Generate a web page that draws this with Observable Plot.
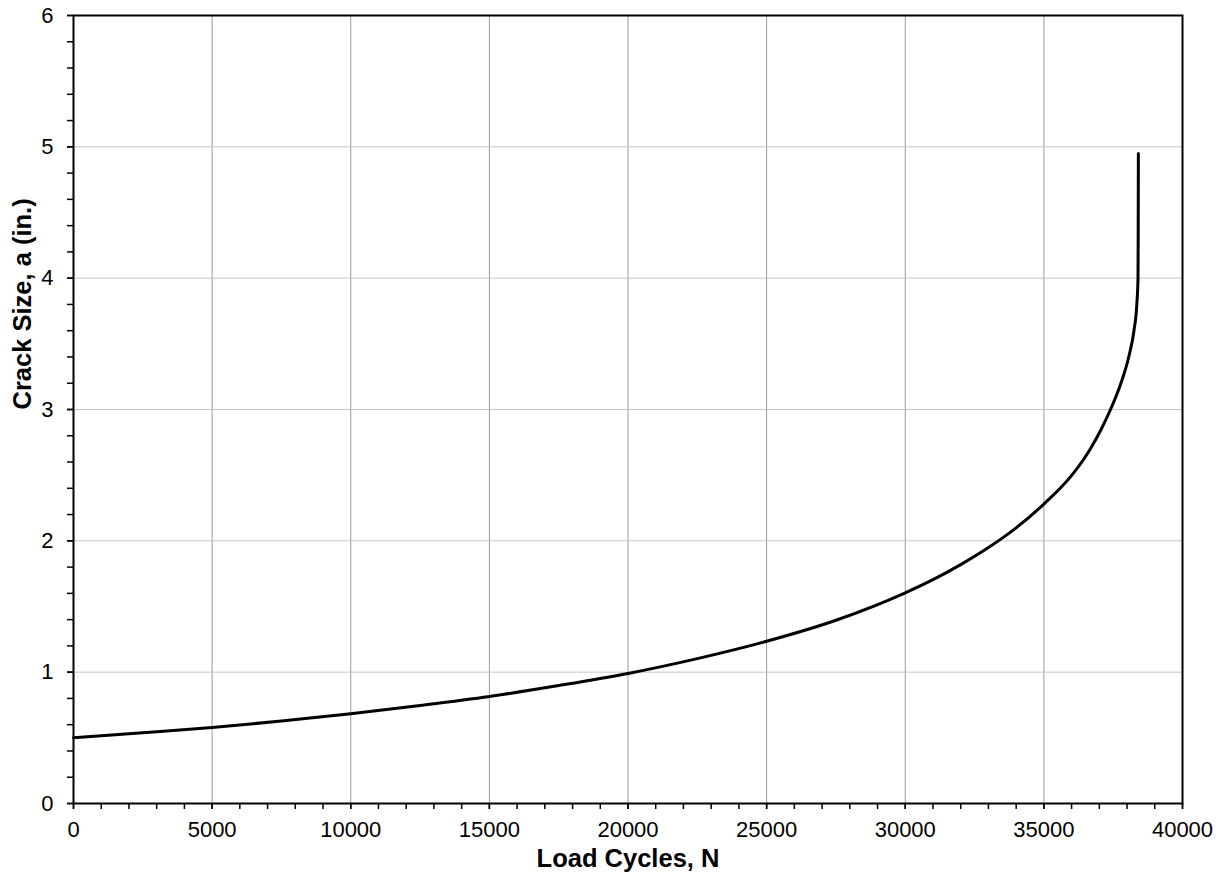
<!DOCTYPE html>
<html>
<head>
<meta charset="utf-8">
<script src="https://cdn.jsdelivr.net/npm/d3@7"></script>
<script src="https://cdn.jsdelivr.net/npm/@observablehq/plot@0.6"></script>
<style>
  html, body { margin: 0; padding: 0; background: #fff; }
  #chart svg { display: block; }
</style>
</head>
<body>
<div id="chart"></div>
<script>
// Fatigue crack growth: crack size a (in.) versus load cycles N
const cycles = [0, 2500, 5000, 7500, 10000, 12500, 15000, 17500, 20000, 22500, 25000,
  27500, 30000, 31000, 32000, 33000, 34000, 35000, 36010, 36675, 37068, 37404, 37779,
  38061, 38249, 38352, 38395, 38402, 38408];
const crackSize = [0.500, 0.538, 0.578, 0.628, 0.683, 0.746, 0.815, 0.898, 0.990, 1.103, 1.235,
  1.395, 1.604, 1.704, 1.819, 1.949, 2.099, 2.280, 2.500, 2.700, 2.850, 3.000, 3.200,
  3.400, 3.600, 3.800, 4.000, 4.300, 4.950];

const xTicks = [0, 5000, 10000, 15000, 20000, 25000, 30000, 35000, 40000];
const yTicks = [0, 1, 2, 3, 4, 5, 6];
const xMinorTicks = d3.range(0, 40001, 1000);
const yMinorTicks = d3.range(0, 6.001, 0.2);

const xLabel = "Load Cycles, N";
const yLabel = "Crack Size, a (in.)";

const data = cycles.map((n, i) => ({n, a: crackSize[i]}));

const font = "'Liberation Sans', Arial, Helvetica, sans-serif";

const chart = Plot.plot({
  width: 1221,
  height: 877,
  marginLeft: 73,
  marginRight: 39,
  marginTop: 15,
  marginBottom: 74,
  style: {fontFamily: font, background: "#fff", color: "#000"},
  x: {domain: [0, 40000]},
  y: {domain: [0, 6]},
  marks: [
    // vertical and horizontal gridlines
    Plot.gridX(xTicks.slice(1, -1), {stroke: "#9a9a9a", strokeOpacity: 1, strokeWidth: 1}),
    Plot.gridY(yTicks.slice(1, -1), {stroke: "#c4c4c4", strokeOpacity: 1, strokeWidth: 1}),
    // minor ticks
    Plot.axisX(xMinorTicks, {tickSize: 6, text: null, label: null, strokeWidth: 1.5, stroke: "#000"}),
    Plot.axisY(yMinorTicks, {tickSize: 6, text: null, label: null, strokeWidth: 1.5, stroke: "#000"}),
    // major ticks with labels
    Plot.axisX(xTicks, {
      tickSize: 6, tickPadding: 12, strokeWidth: 1.5, stroke: "#000",
      tickFormat: d => String(d), fontSize: 22, label: null, fill: "#000"
    }),
    Plot.axisY(yTicks, {
      tickSize: 6, tickPadding: 14, strokeWidth: 1.5, stroke: "#000",
      tickFormat: d => String(d), fontSize: 22, label: null, fill: "#000"
    }),
    // crack growth curve
    Plot.line(data, {x: "n", y: "a", stroke: "#000", strokeWidth: 3, curve: "monotone-x"}),
    Plot.frame({stroke: "#000", strokeWidth: 2}),
    // axis titles
    Plot.text([xLabel], {
      frameAnchor: "bottom", dy: 63, fontSize: 25.5, fontWeight: "bold", fill: "#000"
    }),
    Plot.text([yLabel], {
      frameAnchor: "left", dx: -51, rotate: -90, fontSize: 25.5, fontWeight: "bold", fill: "#000"
    })
  ]
});

document.getElementById("chart").appendChild(chart);
</script>
</body>
</html>
